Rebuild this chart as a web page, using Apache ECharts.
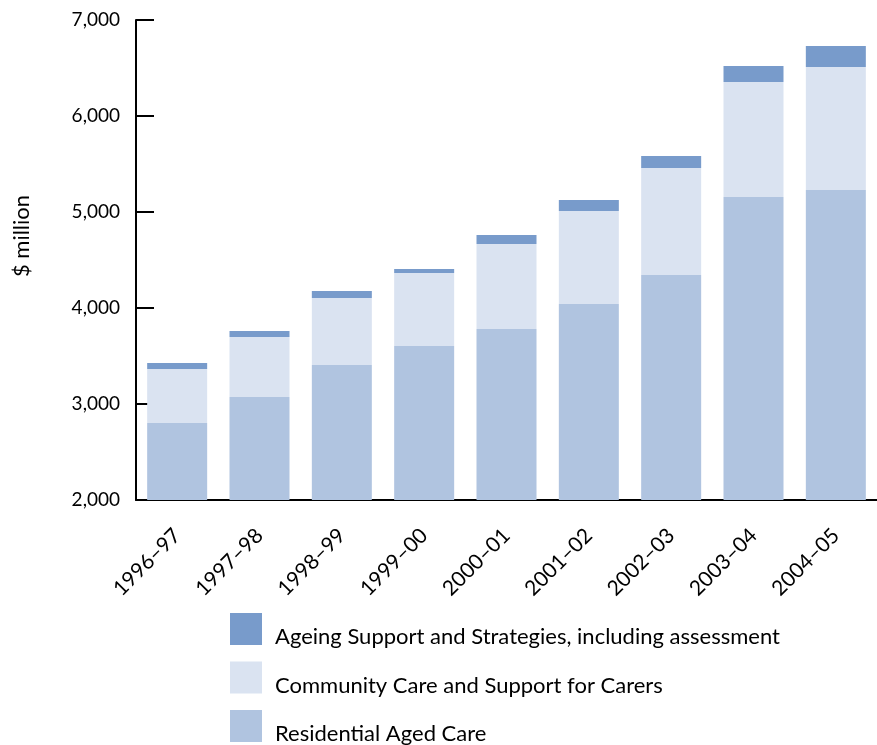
<!DOCTYPE html>
<html>
<head>
<meta charset="utf-8">
<script src="https://cdn.jsdelivr.net/npm/echarts@6/dist/echarts.min.js"></script>
<style>
  html, body { margin: 0; padding: 0; background: #fff; }
  #chart { width: 877px; height: 745px; }
</style>
</head>
<body>
<div id="chart"></div>
<script>
const categories = ['1996–97', '1997–98', '1998–99', '1999–00', '2000–01', '2001–02', '2002–03', '2003–04', '2004–05'];
const residential = [2802, 3073, 3406, 3604, 3781, 4042, 4344, 5156, 5229];
const community = [563, 625, 698, 761, 886, 968, 1114, 1198, 1281];
const ageing = [62, 62, 73, 41, 93, 115, 125, 167, 219];
const seriesNames = ['Residential Aged Care', 'Community Care and Support for Carers', 'Ageing Support and Strategies, including assessment'];
const legendOrder = [seriesNames[2], seriesNames[1], seriesNames[0]];
const yAxisTitle = '$ million';

const FONT = 'Lato';
const chart = echarts.init(document.getElementById('chart'), null, { renderer: 'canvas' });
chart.setOption({
  animation: false,
  backgroundColor: '#ffffff',
  textStyle: { fontFamily: FONT },
  grid: { left: 136, top: 20, width: 747, height: 480, containLabel: false },
  graphic: [{
    type: 'text',
    x: 22,
    y: 236,
    rotation: Math.PI / 2,
    style: {
      text: yAxisTitle,
      fontFamily: FONT,
      fontSize: 22,
      fill: '#000',
      align: 'center',
      verticalAlign: 'middle'
    }
  }],
  legend: {
    data: legendOrder,
    orient: 'vertical',
    left: 230,
    top: 610,
    height: 200,
    padding: 0,
    itemWidth: 32,
    itemHeight: 32,
    itemGap: 10.5,
    icon: 'rect',
    formatter: name => '{t|' + name + '}',
    textStyle: {
      fontFamily: FONT, fontSize: 22, color: '#000',
      rich: { t: { fontFamily: FONT, fontSize: 22, lineHeight: 22, color: '#000', padding: [16, 0, 0, 8] } }
    },
    selectedMode: false
  },
  xAxis: {
    type: 'category',
    data: categories,
    axisLine: { lineStyle: { color: '#000', width: 2 } },
    axisTick: { inside: true, length: 12, lineStyle: { color: '#000', width: 2 } },
    axisLabel: { rotate: 45, margin: 32, fontFamily: FONT, fontSize: 21, color: '#000' }
  },
  yAxis: {
    type: 'value',
    min: 2000,
    max: 7000,
    interval: 1000,
    axisLine: { show: true, lineStyle: { color: '#000', width: 2 } },
    axisTick: { show: true, inside: true, length: 18, lineStyle: { color: '#000', width: 2 } },
    splitLine: { show: false },
    axisLabel: {
      margin: 16, fontFamily: FONT, fontSize: 19, color: '#000',
      formatter: v => v.toLocaleString('en-US')
    }
  },
  series: [
    { name: seriesNames[0], type: 'bar', stack: 'total', data: residential, barWidth: 60, itemStyle: { color: '#b0c4e0' } },
    { name: seriesNames[1], type: 'bar', stack: 'total', data: community, barWidth: 60, itemStyle: { color: '#dae3f1' } },
    { name: seriesNames[2], type: 'bar', stack: 'total', data: ageing, barWidth: 60, itemStyle: { color: '#789bcb' } }
  ]
});
</script>
</body>
</html>
